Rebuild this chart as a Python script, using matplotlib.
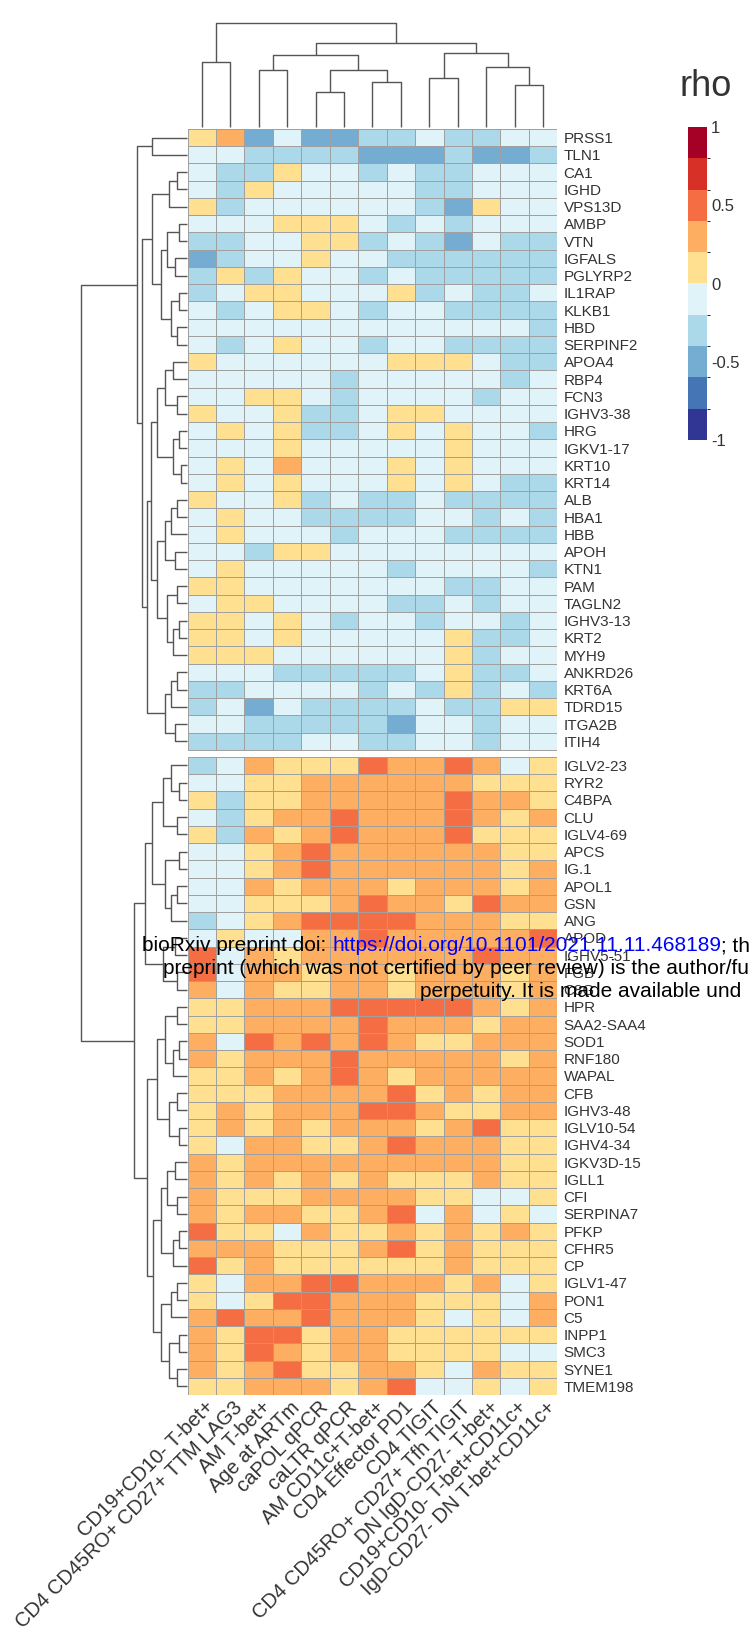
import matplotlib
matplotlib.use('Agg')
import matplotlib as mpl
import matplotlib.pyplot as plt
import numpy as np
from matplotlib.colors import ListedColormap, BoundaryNorm
from matplotlib.transforms import ScaledTranslation

plt.rcParams['font.family'] = ['Liberation Sans', 'DejaVu Sans']

# ---- data ----
col_labels = ['CD19+CD10- T-bet+', 'CD4 CD45RO+ CD27+ TTM LAG3', 'AM T-bet+', 'Age at ARTm',
              'caPOL qPCR', 'caLTR qPCR', 'AM CD11c+T-bet+', 'CD4 Effector PD1', 'CD4 TIGIT',
              'CD4 CD45RO+ CD27+ Tfh TIGIT', 'DN IgD-CD27- T-bet+', 'CD19+CD10- T-bet+CD11c+',
              'IgD-CD27- DN T-bet+CD11c+']

rows_top = ['PRSS1', 'TLN1', 'CA1', 'IGHD', 'VPS13D', 'AMBP', 'VTN', 'IGFALS', 'PGLYRP2', 'IL1RAP',
            'KLKB1', 'HBD', 'SERPINF2', 'APOA4', 'RBP4', 'FCN3', 'IGHV3-38', 'HRG', 'IGKV1-17',
            'KRT10', 'KRT14', 'ALB', 'HBA1', 'HBB', 'APOH', 'KTN1', 'PAM', 'TAGLN2', 'IGHV3-13',
            'KRT2', 'MYH9', 'ANKRD26', 'KRT6A', 'TDRD15', 'ITGA2B', 'ITIH4']

rows_bottom = ['IGLV2-23', 'RYR2', 'C4BPA', 'CLU', 'IGLV4-69', 'APCS', 'IG.1', 'APOL1', 'GSN', 'ANG',
               'APOD', 'IGHV5-51', 'FGB', 'C8G', 'HPR', 'SAA2-SAA4', 'SOD1', 'RNF180', 'WAPAL',
               'CFB', 'IGHV3-48', 'IGLV10-54', 'IGHV4-34', 'IGKV3D-15', 'IGLL1', 'CFI',
               'SERPINA7', 'PFKP', 'CFHR5', 'CP', 'IGLV1-47', 'PON1', 'C5', 'INPP1', 'SMC3',
               'SYNE1', 'TMEM198']

rho_top = [
    [0.1, 0.3, -0.5, -0.1, -0.5, -0.5, -0.3, -0.3, -0.1, -0.3, -0.3, -0.1, -0.1],
    [-0.1, -0.1, -0.3, -0.3, -0.3, -0.3, -0.5, -0.5, -0.5, -0.3, -0.5, -0.5, -0.3],
    [-0.1, -0.3, -0.3, 0.1, -0.1, -0.1, -0.3, -0.1, -0.3, -0.3, -0.1, -0.1, -0.1],
    [-0.1, -0.3, 0.1, -0.1, -0.1, -0.1, -0.1, -0.1, -0.3, -0.3, -0.1, -0.1, -0.1],
    [0.1, -0.3, -0.1, -0.1, -0.1, -0.1, -0.1, -0.1, -0.3, -0.5, 0.1, -0.1, -0.1],
    [-0.1, -0.1, -0.1, 0.1, 0.1, 0.1, -0.1, -0.3, -0.1, -0.3, -0.1, -0.1, -0.1],
    [-0.3, -0.3, -0.1, -0.1, 0.1, 0.1, -0.3, -0.1, -0.3, -0.5, -0.1, -0.3, -0.3],
    [-0.5, -0.3, -0.1, -0.1, 0.1, -0.1, -0.1, -0.3, -0.3, -0.3, -0.3, -0.3, -0.3],
    [-0.3, 0.1, -0.3, 0.1, -0.1, -0.1, -0.3, -0.1, -0.3, -0.3, -0.3, -0.3, -0.3],
    [-0.3, -0.1, 0.1, 0.1, -0.1, -0.1, -0.1, 0.1, -0.3, -0.1, -0.3, -0.3, -0.1],
    [-0.1, -0.3, -0.1, 0.1, 0.1, -0.1, -0.3, -0.1, -0.1, -0.3, -0.3, -0.3, -0.3],
    [-0.1, -0.1, -0.1, -0.1, -0.1, -0.1, -0.1, -0.1, -0.1, -0.1, -0.1, -0.1, -0.3],
    [-0.1, -0.3, -0.1, 0.1, -0.1, -0.1, -0.3, -0.1, -0.1, -0.3, -0.3, -0.3, -0.3],
    [0.1, -0.1, -0.1, -0.1, -0.1, -0.1, -0.1, 0.1, 0.1, 0.1, -0.1, -0.3, -0.3],
    [-0.1, -0.1, -0.1, -0.1, -0.1, -0.3, -0.1, -0.1, -0.1, -0.1, -0.1, -0.3, -0.1],
    [-0.1, -0.1, 0.1, 0.1, -0.1, -0.3, -0.1, -0.1, -0.1, -0.1, -0.3, -0.1, -0.1],
    [0.1, -0.1, -0.1, 0.1, -0.3, -0.3, -0.1, 0.1, 0.1, -0.1, -0.1, -0.1, -0.1],
    [-0.1, 0.1, -0.1, 0.1, -0.3, -0.3, -0.1, 0.1, -0.1, 0.1, -0.1, -0.1, -0.3],
    [-0.1, -0.1, -0.1, 0.1, -0.1, -0.1, -0.1, -0.1, -0.1, 0.1, -0.1, -0.1, -0.1],
    [-0.1, 0.1, -0.1, 0.3, -0.1, -0.1, -0.1, 0.1, -0.1, 0.1, -0.1, -0.1, -0.1],
    [-0.1, 0.1, -0.1, 0.1, -0.1, -0.1, -0.1, 0.1, -0.1, 0.1, -0.1, -0.3, -0.3],
    [0.1, -0.1, -0.1, 0.1, -0.3, -0.1, -0.3, -0.3, -0.1, -0.3, -0.3, -0.3, -0.3],
    [-0.1, 0.1, -0.1, -0.1, -0.3, -0.3, -0.3, -0.3, -0.1, -0.1, -0.3, -0.1, -0.3],
    [-0.1, 0.1, -0.1, -0.1, -0.1, -0.3, -0.1, -0.1, -0.1, -0.3, -0.3, -0.3, -0.3],
    [-0.1, -0.1, -0.3, 0.1, 0.1, -0.1, -0.1, -0.1, -0.1, -0.1, -0.1, -0.1, -0.1],
    [-0.1, 0.1, -0.1, -0.1, -0.1, -0.1, -0.1, -0.3, -0.1, -0.1, -0.1, -0.1, -0.3],
    [0.1, 0.1, -0.1, -0.1, -0.1, -0.1, -0.1, -0.1, -0.1, -0.3, -0.3, -0.1, -0.1],
    [-0.1, 0.1, 0.1, -0.1, -0.1, -0.1, -0.1, -0.3, -0.3, -0.1, -0.3, -0.1, -0.1],
    [0.1, 0.1, -0.1, 0.1, -0.1, -0.3, -0.1, -0.1, -0.3, -0.1, -0.1, -0.3, -0.1],
    [0.1, 0.1, -0.1, 0.1, -0.1, -0.1, -0.1, -0.1, -0.1, 0.1, -0.3, -0.3, -0.1],
    [0.1, 0.1, 0.1, -0.1, -0.1, -0.1, -0.1, -0.1, -0.1, 0.1, -0.3, -0.1, -0.1],
    [-0.1, -0.1, -0.1, -0.3, -0.3, -0.3, -0.3, -0.3, -0.1, 0.1, -0.3, -0.3, -0.1],
    [-0.3, -0.3, -0.1, -0.1, -0.1, -0.1, -0.3, -0.1, -0.3, 0.1, -0.3, -0.1, -0.3],
    [-0.3, -0.1, -0.5, -0.1, -0.3, -0.3, -0.3, -0.3, -0.1, -0.3, -0.3, 0.1, 0.1],
    [-0.1, -0.1, -0.3, -0.3, -0.3, -0.3, -0.3, -0.5, -0.1, -0.1, -0.3, -0.1, -0.1],
    [-0.3, -0.3, -0.3, -0.3, -0.1, -0.1, -0.3, -0.3, -0.1, -0.1, -0.3, -0.1, -0.1],
]

rho_bottom = [
    [-0.3, -0.1, 0.3, 0.1, 0.1, 0.1, 0.5, 0.3, 0.3, 0.5, 0.3, -0.1, 0.1],
    [-0.1, -0.1, 0.1, 0.1, 0.3, 0.3, 0.3, 0.3, 0.3, 0.3, 0.1, 0.1, 0.1],
    [0.1, -0.3, 0.1, 0.1, 0.3, 0.3, 0.3, 0.3, 0.3, 0.5, 0.3, 0.3, 0.1],
    [-0.1, -0.3, 0.1, 0.3, 0.3, 0.5, 0.3, 0.3, 0.3, 0.5, 0.3, 0.1, 0.3],
    [0.1, -0.3, 0.3, 0.1, 0.3, 0.5, 0.3, 0.3, 0.3, 0.5, 0.1, 0.1, 0.1],
    [-0.1, -0.1, 0.1, 0.3, 0.5, 0.3, 0.3, 0.3, 0.3, 0.3, 0.3, 0.1, 0.1],
    [-0.1, -0.1, 0.1, 0.3, 0.5, 0.3, 0.3, 0.3, 0.3, 0.3, 0.3, 0.1, 0.3],
    [-0.1, -0.1, 0.3, 0.1, 0.3, 0.3, 0.3, 0.1, 0.3, 0.3, 0.3, 0.1, 0.3],
    [-0.1, -0.1, 0.1, 0.1, 0.1, 0.3, 0.5, 0.3, 0.3, 0.1, 0.5, 0.3, 0.3],
    [-0.3, -0.1, 0.1, 0.3, 0.5, 0.5, 0.5, 0.5, 0.3, 0.3, 0.3, 0.1, 0.1],
    [-0.1, 0.1, -0.1, -0.1, 0.3, 0.3, 0.5, 0.3, 0.3, 0.3, 0.3, 0.3, 0.5],
    [0.5, -0.1, 0.3, 0.1, 0.3, 0.3, 0.3, 0.3, 0.3, 0.3, 0.5, 0.3, 0.3],
    [0.5, -0.1, 0.3, 0.3, 0.1, 0.3, 0.3, 0.1, 0.3, 0.3, 0.3, 0.1, 0.3],
    [0.3, -0.1, 0.3, 0.1, 0.1, 0.3, 0.3, 0.1, 0.3, 0.3, 0.3, 0.1, 0.3],
    [0.1, 0.1, 0.3, 0.3, 0.3, 0.5, 0.5, 0.5, 0.5, 0.5, 0.3, 0.1, 0.3],
    [0.1, 0.1, 0.3, 0.3, 0.3, 0.3, 0.5, 0.3, 0.3, 0.3, 0.1, 0.3, 0.3],
    [0.3, -0.1, 0.5, 0.3, 0.5, 0.3, 0.5, 0.3, 0.1, 0.1, 0.3, 0.3, 0.3],
    [0.3, 0.1, 0.3, 0.3, 0.3, 0.5, 0.3, 0.3, 0.3, 0.3, 0.3, 0.1, 0.3],
    [0.1, 0.1, 0.3, 0.1, 0.3, 0.5, 0.3, 0.1, 0.3, 0.3, 0.3, 0.3, 0.3],
    [0.1, 0.1, 0.1, 0.3, 0.3, 0.3, 0.3, 0.5, 0.1, 0.3, 0.1, 0.3, 0.3],
    [0.1, 0.3, 0.1, 0.3, 0.3, 0.3, 0.5, 0.5, 0.3, 0.1, 0.1, 0.3, 0.3],
    [0.1, 0.3, 0.1, 0.3, 0.1, 0.3, 0.3, 0.3, 0.1, 0.3, 0.5, 0.1, 0.1],
    [0.1, -0.1, 0.3, 0.3, 0.1, 0.1, 0.3, 0.5, 0.3, 0.3, 0.3, 0.1, 0.1],
    [0.3, 0.1, 0.3, 0.3, 0.3, 0.3, 0.3, 0.3, 0.3, 0.3, 0.3, 0.1, 0.1],
    [0.3, 0.1, 0.3, 0.1, 0.3, 0.1, 0.3, 0.1, 0.1, 0.1, 0.3, 0.1, 0.1],
    [0.3, 0.1, 0.1, 0.1, 0.3, 0.3, 0.3, 0.3, 0.1, 0.1, -0.1, -0.1, 0.1],
    [0.3, 0.1, 0.3, 0.3, 0.1, 0.1, 0.3, 0.5, -0.1, 0.3, -0.1, 0.1, -0.1],
    [0.5, 0.1, 0.1, -0.1, 0.3, 0.1, 0.1, 0.3, 0.1, 0.3, 0.1, 0.3, 0.1],
    [0.3, 0.3, 0.3, 0.1, 0.1, 0.1, 0.3, 0.5, 0.1, 0.3, 0.1, 0.1, 0.1],
    [0.5, 0.1, 0.3, 0.1, 0.1, 0.1, 0.1, 0.1, 0.1, 0.3, 0.1, 0.1, 0.1],
    [0.1, -0.1, 0.3, 0.3, 0.5, 0.5, 0.3, 0.3, 0.3, 0.1, 0.3, -0.1, 0.1],
    [0.1, -0.1, 0.1, 0.5, 0.5, 0.3, 0.3, 0.3, 0.1, 0.1, 0.1, -0.1, 0.3],
    [0.3, 0.5, 0.3, 0.3, 0.5, 0.3, 0.3, 0.3, 0.1, -0.1, 0.1, -0.1, 0.3],
    [0.3, 0.1, 0.5, 0.5, 0.1, 0.3, 0.3, 0.1, 0.1, 0.1, 0.1, 0.1, 0.1],
    [0.3, 0.1, 0.5, 0.3, 0.1, 0.3, 0.3, 0.1, 0.1, 0.1, 0.1, -0.1, -0.1],
    [0.3, 0.1, 0.3, 0.5, 0.1, 0.1, 0.3, 0.3, 0.1, -0.1, 0.3, 0.1, 0.1],
    [0.1, 0.1, 0.3, 0.3, 0.3, 0.1, 0.3, 0.5, -0.1, -0.1, 0.1, -0.1, 0.1],
]

# dendrogram merges: (left, right, height); ints are leaf indices
col_tree = ((0, 1, 65),
            (((2, 3, 57), ((4, 5, 35), (6, 7, 45), 57), 72),
             ((8, 9, 49), (10, (11, 12, 42), 60), 74), 84), 104)

tree_top = ((0, 1, 35),
            ((((2, 3, 10), 4, 18),
              (((5, 6, 8), (7, 8, 12), 20), ((9, 10, 8), (11, 12, 10), 16), 26), 35),
             (((((13, 14, 14), (15, 16, 10), 22), ((17, 18, 8), (19, 20, 6), 14), 30),
               ((((21, 22, 10), 23, 16), (24, 25, 12), 22),
                ((26, 27, 10), ((28, 29, 8), 30, 14), 20), 30), 36),
              (((31, 32, 10), 33, 16), (34, 35, 12), 22), 40), 45), 50)

tree_bottom = (((((36, (37, 38, 8), 16), (39, 40, 10), 24),
                 ((41, 42, 8), ((43, 44, 10), 45, 16), 22), 35),
                ((46, 47, 12), (48, 49, 10), 24), 42),
               ((((50, 51, 10), ((52, 53, 8), 54, 14), 22),
                 ((55, 56, 10), (57, 58, 8), 18), 30),
                ((((59, 60, 12), (61, 62, 10), 20), ((63, 64, 8), 65, 14), 26),
                 (((66, 67, 10), 68, 16), ((69, 70, 8), (71, 72, 10), 18), 26), 34), 40), 53)

row_tree = (tree_top, tree_bottom, 107)

bar_ticks = [-1, -0.5, 0, 0.5, 1]
bar_labels = ['-1', '-0.5', '0', '0.5', '1']

# ---- style ----
W, H = 755, 1635
colors = ['#313695', '#4575b4', '#74add1', '#abd9e9', '#e0f3f8',
          '#fee090', '#fdae61', '#f46d43', '#d73027', '#a50026']
cmap = ListedColormap(colors)
norm = BoundaryNorm(np.linspace(-1, 1, 11), cmap.N)
line_col = '#555555'
txt_col = '#333333'


def box(x0, y0, x1, y1):
    # pixel box (top-left origin) -> figure fraction rect
    return [x0 / W, 1 - y1 / H, (x1 - x0) / W, (y1 - y0) / H]


def draw_tree(ax, node, pos, horizontal):
    if isinstance(node, int):
        return pos[node], 0.0
    left, right, h = node
    p1, h1 = draw_tree(ax, left, pos, horizontal)
    p2, h2 = draw_tree(ax, right, pos, horizontal)
    ps = [p1, p1, p2, p2]
    hs = [h1, h, h, h2]
    if horizontal:
        ax.plot(hs, ps, color=line_col, lw=1.0, solid_capstyle='butt', clip_on=False)
    else:
        ax.plot(ps, hs, color=line_col, lw=1.0, solid_capstyle='butt', clip_on=False)
    return (p1 + p2) / 2, h


fig = plt.figure(figsize=(W / 100, H / 100), dpi=100)
fig.patch.set_facecolor('white')

n_top, n_bot, n_col = len(rows_top), len(rows_bottom), len(col_labels)
gap = 0.4
hm_x0, hm_x1, hm_y0, hm_y1 = 187.5, 557.3, 129, 1395

ax = fig.add_axes(box(hm_x0, hm_y0, hm_x1, hm_y1))
xe = np.arange(n_col + 1)
ax.pcolormesh(xe, np.arange(n_top + 1), np.array(rho_top), cmap=cmap, norm=norm,
              edgecolors='#a0a0a0', linewidth=0.7)
ax.pcolormesh(xe, np.arange(n_bot + 1) + n_top + gap, np.array(rho_bottom), cmap=cmap, norm=norm,
              edgecolors='#a0a0a0', linewidth=0.7)
ax.set_xlim(0, n_col)
ax.set_ylim(n_top + n_bot + gap, 0)
ypos = [i + 0.5 for i in range(n_top)] + [n_top + gap + i + 0.5 for i in range(n_bot)]
ax.yaxis.tick_right()
ax.set_yticks(ypos)
ax.set_yticklabels(rows_top + rows_bottom, fontsize=11, color=txt_col)
ax.set_xticks(np.arange(n_col) + 0.5)
ax.set_xticklabels(col_labels, rotation=45, ha='right', rotation_mode='anchor',
                   fontsize=14.5, color=txt_col)
ax.tick_params(axis='y', length=0, pad=4.5)
ax.tick_params(axis='x', length=0, pad=2)
shift = ScaledTranslation(3 / 100, 0, fig.dpi_scale_trans)
for lab in ax.get_xticklabels():
    lab.set_transform(lab.get_transform() + shift)
for s in ax.spines.values():
    s.set_visible(False)

# row dendrogram
axr = fig.add_axes(box(81, hm_y0, 186.5, hm_y1))
axr.set_ylim(n_top + n_bot + gap, 0)
axr.set_xlim(row_tree[2], 0)
draw_tree(axr, row_tree, ypos, True)
axr.axis('off')

# column dendrogram
axc = fig.add_axes(box(hm_x0, 23, hm_x1, 127))
axc.set_xlim(0, n_col)
axc.set_ylim(0, col_tree[2])
draw_tree(axc, col_tree, [i + 0.5 for i in range(n_col)], False)
axc.axis('off')

# legend
cax = fig.add_axes(box(688, 127, 707, 440))
cb = mpl.colorbar.ColorbarBase(cax, cmap=cmap, norm=norm, ticks=bar_ticks)
cb.set_ticklabels(bar_labels)
cb.outline.set_visible(False)
cax.tick_params(length=0, labelsize=12, labelcolor=txt_col, pad=3)
fig.text(679 / W, 1 - 96 / H, 'rho', fontsize=26, color=txt_col, va='baseline')

# preprint header overlay
t1 = fig.text(142 / W, 1 - 951 / H, 'bioRxiv preprint doi: ', fontsize=15, va='baseline', color='black')
t2 = ax.annotate('https://doi.org/10.1101/2021.11.11.468189', xy=(1, 0), xycoords=t1,
                 va='bottom', ha='left', fontsize=15, color='#0000ff')
ax.annotate('; th', xy=(1, 0), xycoords=t2, va='bottom', ha='left', fontsize=15, color='black')
fig.text(163 / W, 1 - 974 / H, 'preprint (which was not certified by peer review) is the author/fu',
         fontsize=15, va='baseline', color='black')
fig.text(420 / W, 1 - 997 / H, 'perpetuity. It is made available und',
         fontsize=15, va='baseline', color='black')

fig.savefig('out.png', dpi=100)
